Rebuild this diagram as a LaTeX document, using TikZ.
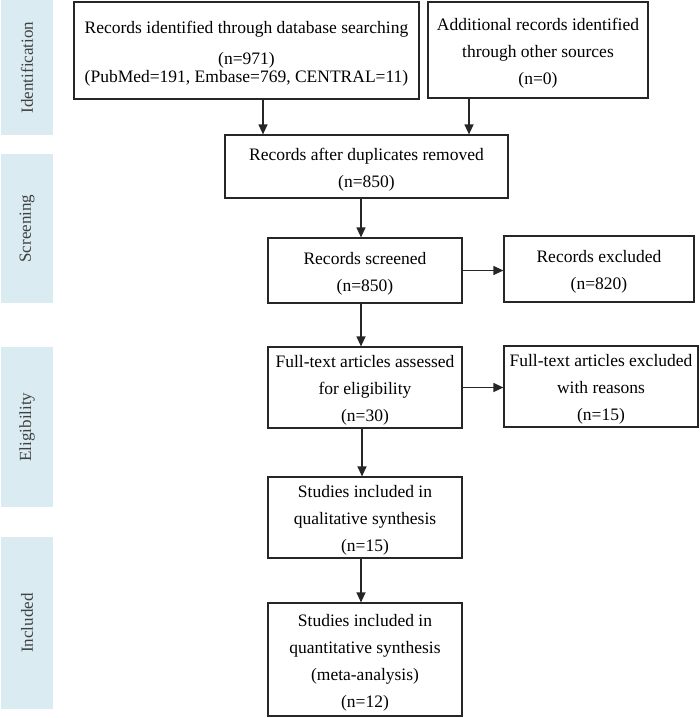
\documentclass[tikz,border=0pt]{standalone}
\usepackage{fontspec}
\setmainfont{Liberation Serif}
\usetikzlibrary{arrows.meta}
\definecolor{phaseblue}{RGB}{218,235,242}
\newcommand{\toplift}{\rule{0pt}{18.5pt}}
\begin{document}
\begin{tikzpicture}[x=1pt, y=-1pt,
             box/.style={draw=black!85, line width=1.2pt, inner sep=0pt, align=center, font=\fontsize{17.5}{27}\selectfont},
             phase/.style={fill=phaseblue, rotate=90, inner sep=0pt, minimum height=52pt, text=black!75, font=\fontsize{17}{20}\selectfont},
             arr/.style={-{Triangle[length=10pt, width=9pt]}, line width=1.2pt, draw=black!85}]
             \useasboundingbox (0,0) rectangle (700,718);
             \node[phase, minimum width=135pt] (pid) at (27,67.5) {Identification};
             \node[phase, minimum width=149pt] (pscr) at (27,228.5) {Screening};
             \node[phase, minimum width=160pt] (pelig) at (27,427) {Eligibility};
             \node[phase, minimum width=172pt] (pincl) at (27,623) {Included};
             \node[box, minimum width=345pt, minimum height=97pt] (ident) at (246.5,50.5) {\toplift Records identified through database searching\\[4.5pt](n=971)\\[-9pt](PubMed=191, Embase=769, CENTRAL=11)};
             \node[box, minimum width=220pt, minimum height=96pt] (other) at (538,50) {\toplift Additional records identified\\through other sources\\(n=0)};
             \node[box, minimum width=283pt, minimum height=63pt] (dedup) at (366.5,166.5) {\toplift Records after duplicates removed\\(n=850)};
             \node[box, minimum width=194pt, minimum height=65pt] (screened) at (365,270.5) {\toplift Records screened\\(n=850)};
             \node[box, minimum width=190pt, minimum height=66pt] (excluded) at (599,269) {\toplift Records excluded\\(n=820)};
             \node[box, minimum width=194pt, minimum height=81pt] (fulltext) at (365,387.5) {\toplift Full-text articles assessed\\for eligibility\\(n=30)};
             \node[box, minimum width=194pt, minimum height=81pt] (ftexcl) at (601,386.5) {\toplift Full-text articles excluded\\with reasons\\(n=15)};
             \node[box, minimum width=194pt, minimum height=81pt] (qual) at (365,517.5) {\toplift Studies included in\\qualitative synthesis\\(n=15)};
             \node[box, minimum width=194pt, minimum height=113pt] (quant) at (365,659.5) {\toplift Studies included in\\quantitative synthesis\\(meta-analysis)\\(n=12)};
             \draw[arr] ([xshift=16.5pt]ident.south) -- ([xshift=16.5pt]ident.south |- dedup.north);
             \draw[arr] ([xshift=-69pt]other.south) -- ([xshift=-69pt]other.south |- dedup.north);
             \draw[arr] ([xshift=-4pt]screened.north |- dedup.south) -- ([xshift=-4pt]screened.north);
             \draw[arr] ([xshift=-4pt]screened.south) -- ([xshift=-4pt]fulltext.north);
             \draw[arr] ([xshift=-3pt]fulltext.south) -- ([xshift=-3pt]qual.north);
             \draw[arr] ([xshift=-4pt]qual.south) -- ([xshift=-4pt]quant.north);
             \draw[arr] (screened.east) -- (screened.east -| excluded.west);
             \draw[arr] (fulltext.east) -- (fulltext.east -| ftexcl.west);
         \end{tikzpicture}
\end{document}
